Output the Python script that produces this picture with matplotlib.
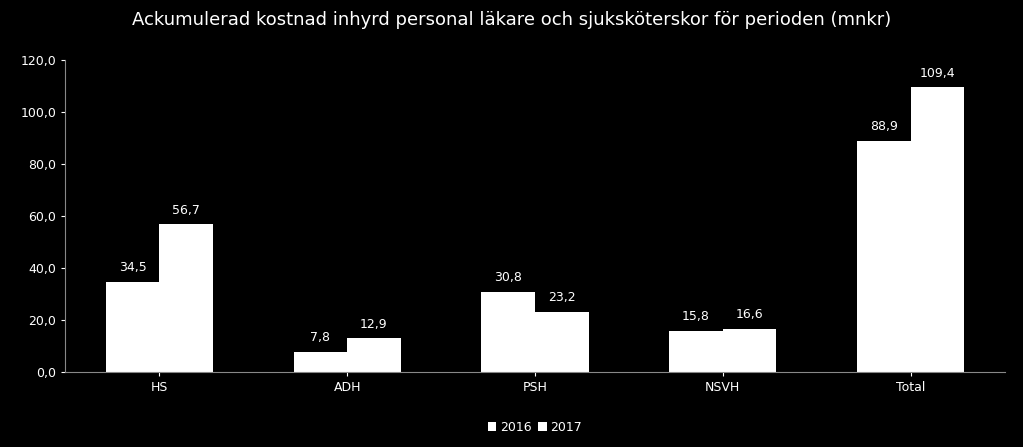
import numpy as np
import matplotlib.pyplot as plt

categories = ["HS", "ADH", "PSH", "NSVH", "Total"]
values_2016 = [34.5, 7.8, 30.8, 15.8, 88.9]
values_2017 = [56.7, 12.9, 23.2, 16.6, 109.4]
yticks = [0, 20, 40, 60, 80, 100, 120]

fig = plt.figure(figsize=(10.23, 4.47), dpi=100, facecolor="black")
ax = fig.add_axes([0.064, 0.168, 0.918, 0.698], facecolor="black")

x = np.arange(len(categories))
w = 0.285
b1 = ax.bar(x - w / 2, values_2016, w, color="white", label="2016")
b2 = ax.bar(x + w / 2, values_2017, w, color="white", label="2017")
for bars in (b1, b2):
    for r in bars:
        h = r.get_height()
        ax.text(r.get_x() + r.get_width() / 2, h + 3, f"{h:.1f}".replace(".", ","),
                ha="center", va="bottom", color="white", fontsize=9)

ax.set_xlim(-0.5, len(categories) - 0.5)
ax.set_ylim(0, 120)
ax.set_yticks(yticks)
ax.set_yticklabels([f"{v:.1f}".replace(".", ",") for v in yticks], color="white", fontsize=9)
ax.set_xticks(x)
ax.set_xticklabels(categories, color="white", fontsize=9)
ax.tick_params(colors="white", length=3)
for s in ["top", "right"]:
    ax.spines[s].set_visible(False)
for s in ["left", "bottom"]:
    ax.spines[s].set_color("#888888")

fig.suptitle("Ackumulerad kostnad inhyrd personal läkare och sjuksköterskor för perioden (mnkr)",
             color="white", fontsize=13, y=0.975)
leg = ax.legend(loc="upper center", bbox_to_anchor=(0.5, -0.12), ncol=2, frameon=False,
                fontsize=9, handlelength=0.7, handletextpad=0.3, columnspacing=0.5)
for t in leg.get_texts():
    t.set_color("white")

fig.savefig("out.png", facecolor="black")
